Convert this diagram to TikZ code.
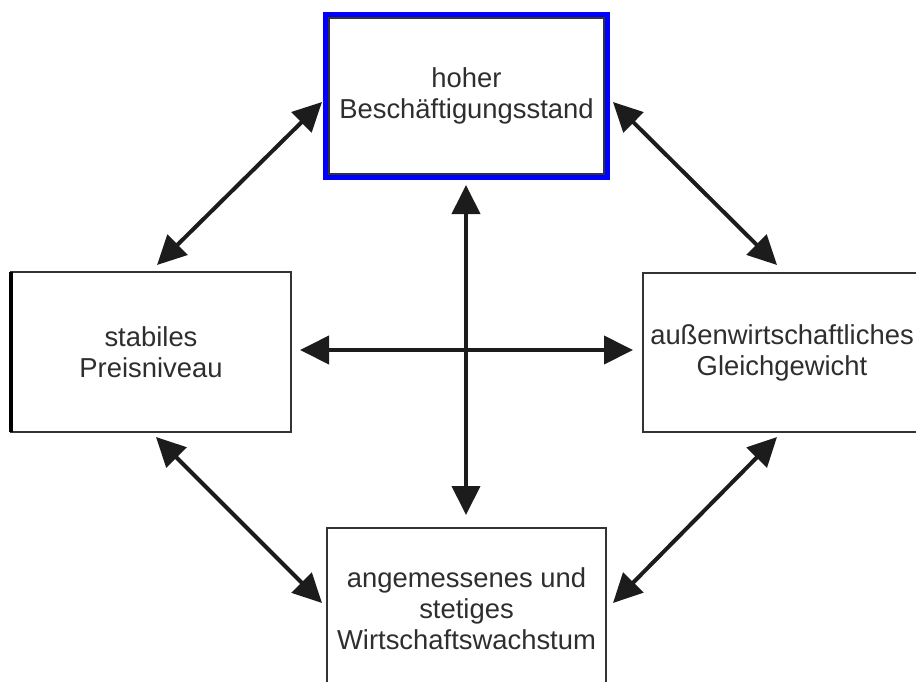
\documentclass[tikz,border=0pt]{standalone}
\usepackage{fontspec}
\setmainfont{Liberation Sans}
\usetikzlibrary{arrows.meta}

\definecolor{boxline}{HTML}{333333}
\definecolor{arrowfill}{HTML}{1C1C1C}
\definecolor{labeltext}{HTML}{2E2E2E}
\definecolor{topblue}{HTML}{0000FF}

\begin{document}
\begin{tikzpicture}[x=1pt,y=-1pt,
    goalbox/.style={draw=boxline,line width=2pt,outer sep=0pt,inner sep=0pt,
      text=labeltext,align=center,font=\fontsize{27.4}{31}\selectfont},
    twoway/.style={line width=4pt,draw=arrowfill,
      {Triangle[length=29pt,width=28pt]}-{Triangle[length=29pt,width=28pt]}}]
      \useasboundingbox (0,0) rectangle (916,681);
      \clip (0,0) rectangle (916,681);
      % the four goals
      \node[goalbox,draw=topblue,line width=5pt,minimum width=282,minimum height=163] (top) at (466.5,96) {hoher\\Beschäftigungsstand};
      \draw[line width=1.2pt,boxline] ([shift={(3.5,3.5)}]top.north west) rectangle ([shift={(-3.5,-3.5)}]top.south east);
      \node[goalbox,minimum width=280,minimum height=160] (left) at (151,352) {stabiles\\Preisniveau};
      \draw[line width=3.5pt,black] (left.north west) -- (left.south west);
      \node[goalbox,minimum width=278,minimum height=159] (right) at (782,352.5) {außenwirtschaftliches\\Gleichgewicht};
      \node[goalbox,minimum width=279,minimum height=161] (bottom) at (466.5,608.5) {angemessenes und\\stetiges\\Wirtschaftswachstum};
      % arrows between them
      \draw[twoway] ([shift={(6,-7)}]left.north) -- ([shift={(-3.5,6)}]top.west);
      \draw[twoway] ([shift={(5.5,6)}]top.east) -- ([shift={(-5,-8)}]right.north);
      \draw[twoway] ([shift={(5,5)}]left.south) -- ([shift={(-5,-5.5)}]bottom.west);
      \draw[twoway] ([shift={(-5,5)}]right.south) -- ([shift={(7,-5.5)}]bottom.east);
      \draw[twoway] ([shift={(9,-2)}]left.east) -- ([shift={(-10,-2.5)}]right.west);
      \draw[twoway] ([shift={(-0.5,7.5)}]top.south) -- ([shift={(-0.5,-13)}]bottom.north);
    \end{tikzpicture}
\end{document}
